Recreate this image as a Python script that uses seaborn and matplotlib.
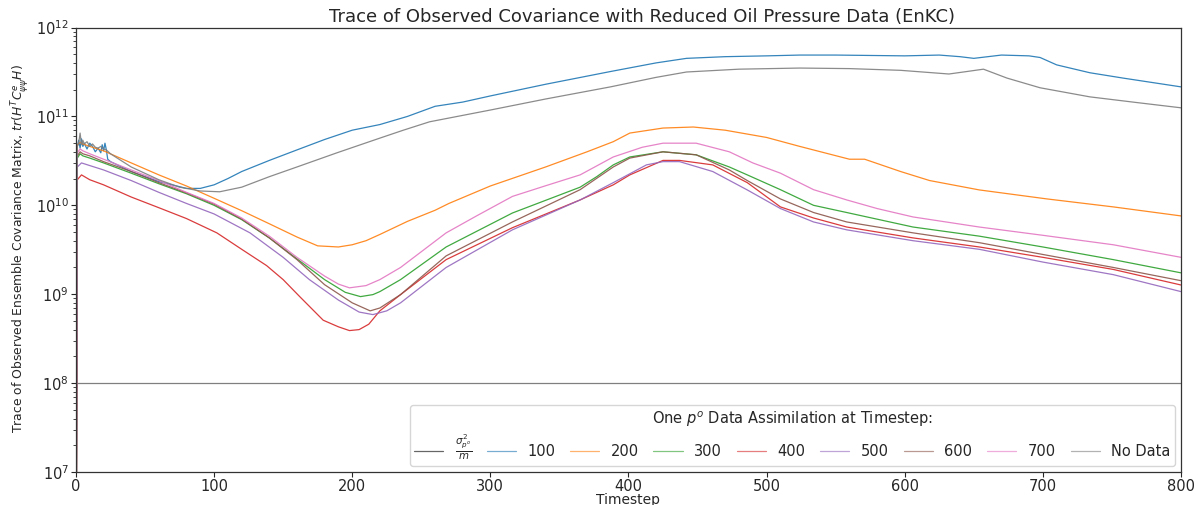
import matplotlib
matplotlib.use("Agg")
import matplotlib.pyplot as plt
import seaborn as sns
import pandas as pd

# ---------------- data ----------------
labels = [r"$\frac{\sigma^2_{p^o}}{m}$", "100", "200", "300", "400", "500", "600", "700", "No Data"]

t_sigma = [0, 800]
v_sigma = [1e8, 1e8]

t_100 = [0, 1, 2, 3, 4, 5, 6, 8, 10, 12, 14, 16, 18, 19, 20, 21, 22, 23, 25, 40, 60, 80, 90, 100, 110,
         120, 140, 160, 180, 200, 220, 240, 260, 280, 300, 340, 387, 420, 442, 470, 500, 524, 550, 600,
         625, 640, 650, 670, 690, 698, 710, 734, 758, 800]
v_100 = [1e5, 4.6e10, 5.4e10, 4.4e10, 5.6e10, 4.6e10, 5.0e10, 4.3e10, 5.0e10, 4.6e10, 4.0e10, 4.4e10,
         3.9e10, 4.8e10, 4.1e10, 5.0e10, 4.2e10, 3.3e10, 3.1e10, 2.4e10, 1.85e10, 1.55e10, 1.55e10,
         1.7e10, 2.0e10, 2.4e10, 3.2e10, 4.2e10, 5.5e10, 7.0e10, 8.1e10, 1.0e11, 1.3e11, 1.45e11, 1.7e11,
         2.3e11, 3.2e11, 4.0e11, 4.5e11, 4.7e11, 4.8e11, 4.9e11, 4.9e11, 4.8e11, 4.9e11, 4.7e11, 4.5e11,
         4.9e11, 4.8e11, 4.6e11, 3.8e11, 3.1e11, 2.7e11, 2.15e11]

t_200 = [0, 1, 3, 5, 10, 20, 40, 60, 80, 100, 120, 140, 160, 175, 190, 200, 210, 220, 240, 260, 270,
         300, 340, 370, 389, 401, 425, 447, 470, 500, 524, 560, 571, 597, 618, 654, 703, 751, 800]
v_200 = [1e5, 4.8e10, 5.1e10, 4.9e10, 4.6e10, 4.1e10, 3.0e10, 2.2e10, 1.65e10, 1.2e10, 8.7e9, 6.2e9,
         4.4e9, 3.5e9, 3.4e9, 3.6e9, 4.0e9, 4.7e9, 6.6e9, 8.8e9, 1.05e10, 1.65e10, 2.7e10, 4.0e10,
         5.2e10, 6.5e10, 7.4e10, 7.6e10, 7.0e10, 5.8e10, 4.6e10, 3.3e10, 3.3e10, 2.4e10, 1.9e10,
         1.49e10, 1.18e10, 9.6e9, 7.6e9]

t_300 = [0, 1, 3, 5, 10, 20, 40, 60, 80, 100, 120, 140, 160, 180, 195, 206, 215, 220, 235, 268, 316,
         365, 377, 389, 401, 425, 449, 473, 486, 510, 534, 558, 606, 654, 700, 751, 800]
v_300 = [1e5, 3.4e10, 3.8e10, 3.6e10, 3.4e10, 3.0e10, 2.3e10, 1.75e10, 1.35e10, 1.0e10, 6.9e9, 4.3e9,
         2.5e9, 1.46e9, 1.05e9, 9.4e8, 9.9e8, 1.07e9, 1.46e9, 3.4e9, 8.2e9, 1.6e10, 2.1e10, 2.85e10,
         3.5e10, 4.0e10, 3.7e10, 2.7e10, 2.2e10, 1.5e10, 1.0e10, 8.3e9, 5.7e9, 4.5e9, 3.4e9, 2.45e9,
         1.74e9]

t_400 = [0, 1, 4, 10, 20, 40, 60, 80, 102, 120, 138, 150, 162, 179, 190, 198, 205, 212, 220, 235, 268,
         316, 365, 389, 401, 425, 437, 461, 486, 510, 534, 558, 606, 654, 700, 751, 800]
v_400 = [1e5, 1.94e10, 2.2e10, 1.94e10, 1.7e10, 1.24e10, 9.4e9, 7.1e9, 4.9e9, 3.2e9, 2.1e9, 1.46e9,
         9.4e8, 5.1e8, 4.3e8, 3.9e8, 4.0e8, 4.6e8, 6.5e8, 9.9e8, 2.45e9, 5.6e9, 1.15e10, 1.7e10, 2.2e10,
         3.2e10, 3.2e10, 2.85e10, 1.8e10, 9.6e9, 7.2e9, 5.7e9, 4.3e9, 3.4e9, 2.6e9, 1.9e9, 1.27e9]

t_500 = [0, 1, 4, 10, 20, 40, 60, 80, 100, 126, 150, 169, 190, 205, 215, 225, 235, 268, 316, 365, 389,
         413, 425, 437, 461, 486, 510, 534, 558, 606, 654, 700, 751, 800]
v_500 = [1e5, 2.7e10, 3.0e10, 2.8e10, 2.5e10, 1.9e10, 1.4e10, 1.05e10, 8.0e9, 4.9e9, 2.6e9, 1.46e9,
         8.6e8, 6.3e8, 5.9e8, 6.5e8, 8.0e8, 2.0e9, 5.3e9, 1.15e10, 1.8e10, 2.85e10, 3.1e10, 3.1e10,
         2.4e10, 1.49e10, 9.2e9, 6.5e9, 5.3e9, 4.0e9, 3.2e9, 2.3e9, 1.66e9, 1.07e9]

t_600 = [0, 1, 3, 5, 10, 20, 40, 60, 80, 100, 120, 140, 160, 180, 200, 213, 220, 235, 268, 316, 365,
         389, 401, 425, 449, 473, 486, 510, 534, 558, 606, 654, 700, 751, 800]
v_600 = [1e5, 3.6e10, 4.0e10, 3.8e10, 3.6e10, 3.1e10, 2.4e10, 1.8e10, 1.38e10, 1.03e10, 7.0e9, 4.3e9,
         2.45e9, 1.28e9, 8.0e8, 6.5e8, 7.0e8, 9.9e8, 2.7e9, 6.5e9, 1.5e10, 2.7e10, 3.4e10, 4.0e10,
         3.7e10, 2.5e10, 1.9e10, 1.18e10, 8.3e9, 6.5e9, 4.9e9, 3.8e9, 2.8e9, 2.0e9, 1.42e9]

t_700 = [0, 1, 3, 5, 10, 20, 40, 60, 80, 100, 120, 140, 160, 180, 190, 198, 210, 220, 235, 268, 290,
         316, 340, 365, 389, 410, 425, 449, 473, 490, 510, 534, 558, 580, 606, 654, 700, 751, 800]
v_700 = [1e5, 3.9e10, 4.3e10, 4.1e10, 3.8e10, 3.3e10, 2.5e10, 1.9e10, 1.4e10, 1.05e10, 7.2e9, 4.5e9,
         2.6e9, 1.6e9, 1.3e9, 1.18e9, 1.25e9, 1.46e9, 2.0e9, 4.9e9, 7.6e9, 1.26e10, 1.66e10, 2.2e10,
         3.5e10, 4.5e10, 5.0e10, 5.0e10, 4.0e10, 3.0e10, 2.3e10, 1.5e10, 1.15e10, 9.2e9, 7.4e9, 5.7e9,
         4.6e9, 3.6e9, 2.6e9]

t_nodata = [0, 1, 2, 3, 4, 5, 6, 8, 10, 12, 14, 16, 18, 20, 22, 25, 40, 60, 75, 90, 104, 120, 140, 160,
            189, 220, 237, 256, 300, 340, 387, 420, 442, 480, 524, 560, 597, 632, 645, 657, 674, 698,
            734, 770, 800]
v_nodata = [1e5, 4.6e10, 5.0e10, 6.5e10, 4.8e10, 5.4e10, 4.9e10, 5.2e10, 4.6e10, 4.9e10, 4.5e10, 4.4e10,
            4.6e10, 4.3e10, 4.2e10, 3.8e10, 2.7e10, 1.94e10, 1.6e10, 1.45e10, 1.42e10, 1.6e10, 2.1e10,
            2.7e10, 3.9e10, 5.7e10, 7.0e10, 8.7e10, 1.18e11, 1.57e11, 2.15e11, 2.75e11, 3.16e11, 3.4e11,
            3.5e11, 3.45e11, 3.3e11, 3.0e11, 3.2e11, 3.4e11, 2.7e11, 2.1e11, 1.66e11, 1.42e11, 1.25e11]

series_t = [t_sigma, t_100, t_200, t_300, t_400, t_500, t_600, t_700, t_nodata]
series_v = [v_sigma, v_100, v_200, v_300, v_400, v_500, v_600, v_700, v_nodata]
colors = ["black", "tab:blue", "tab:orange", "tab:green", "tab:red", "tab:purple",
          "tab:brown", "tab:pink", "tab:gray"]

# ---------------- plot ----------------
sns.set_style("ticks")
plt.rcParams["font.family"] = ["DejaVu Sans"]

fig = plt.figure(figsize=(11.98, 5.05), dpi=100)
ax = fig.add_axes([0.0634, 0.0653, 0.9224, 0.8802])

for lab, tt, vv, col in zip(labels, series_t, series_v, colors):
    df = pd.DataFrame({"Timestep": tt, "value": vv})
    sns.lineplot(data=df, x="Timestep", y="value", ax=ax, color=col, label=lab,
                 linewidth=0.9, alpha=0.5 if lab == labels[0] else 0.9,
                 estimator=None, sort=True)

ax.set_yscale("log")
ax.set_xlim(0, 800)
ax.set_ylim(1e7, 1e12)
ax.set_xticks(range(0, 801, 100))
ax.tick_params(axis="both", labelsize=10.5, pad=1.5)
ax.set_xlabel("Timestep", fontsize=10, labelpad=-1)
ax.set_ylabel(r"Trace of Observed Ensemble Covariance Matrix, $tr(H^TC^e_{\psi\psi}H)$", fontsize=8.9)
ax.yaxis.set_label_coords(-0.040, 0.503)
ax.set_title("Trace of Observed Covariance with Reduced Oil Pressure Data (EnKC)", fontsize=13,
             pad=4, x=0.5125)
for s in ax.spines.values():
    s.set_visible(True)
    s.set_color("#333333")
    s.set_linewidth(0.9)

leg = ax.legend(loc="lower right", ncol=9, title=r"One $p^o$ Data Assimilation at Timestep:",
                fontsize=10.5, title_fontsize=10.5, frameon=True, columnspacing=1.0,
                handlelength=2.0, handletextpad=0.8, borderaxespad=0.4,
                labelspacing=0.2, borderpad=0.3)
for h in leg.legend_handles:
    h.set_alpha(0.6)

fig.savefig("out.png", dpi=100)
